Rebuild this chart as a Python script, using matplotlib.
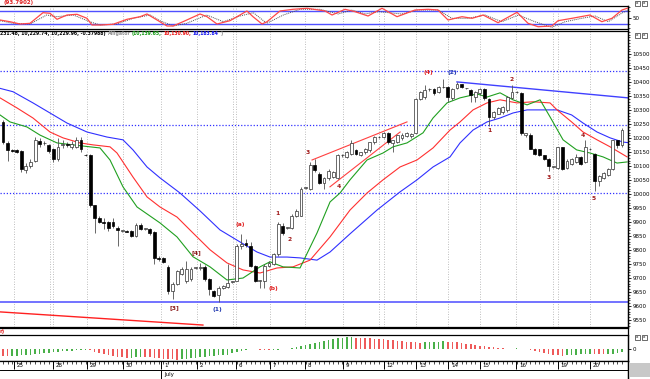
import numpy as np
import matplotlib.pyplot as plt
from matplotlib.patches import Rectangle
from matplotlib.lines import Line2D

plt.rcParams['font.family'] = ['DejaVu Sans']

# ---- hourly candles, Jun 24 .. Jul 20 ----
opens = [10257,10181,10156,10156,10153,10085,10100,10120,10190,10182,
         10175,10160,10125,10175,10178,10170,10170,10195,10140,10138,
         9960,9915,9900,9900,9900,9880,9868,9868,9868,9852,
         9890,9876,9876,9865,9770,9770,9740,9654,9679,9715,
         9690,9697,9736,9735,9740,9697,9654,9640,9665,9668,
         9686,9690,9815,9825,9815,9744,9690,9690,9744,9751,
         9786,9887,9880,9880,9923,9923,10023,10020,10105,10073,
         10041,10056,10062,10059,10138,10131,10145,10156,10140,10149,
         10156,10185,10203,10203,10217,10181,10185,10199,10206,10206,
         10220,10339,10346,10374,10374,10364,10382,10382,10342,10378,
         10392,10378,10371,10346,10360,10374,10339,10274,10288,10292,
         10299,10342,10364,10360,10212,10213,10163,10160,10138,10127,
         10098,10095,10167,10095,10109,10113,10131,10113,10160,10145,
         10048,10059,10070,10088,10192,10174]
highs = [10265,10190,10160,10162,10158,10110,10125,10205,10200,10190,
         10180,10165,10200,10195,10185,10190,10205,10205,10145,10142,
         9962,9920,9915,9905,9915,9885,9872,9870,9870,9895,
         9895,9880,9880,9868,9778,9775,9745,9685,9730,9740,
         9760,9740,9740,9755,9745,9700,9658,9670,9675,9750,
         9690,9820,9858,9840,9830,9748,9693,9750,9760,9790,
         9900,9895,9884,9928,9945,10025,10026,10113,10125,10080,
         10062,10090,10082,10145,10142,10155,10195,10160,10152,10166,
         10188,10206,10206,10222,10222,10195,10213,10218,10222,10220,
         10342,10368,10389,10378,10378,10385,10410,10385,10378,10400,
         10395,10381,10375,10368,10378,10378,10342,10296,10310,10315,
         10350,10389,10368,10364,10220,10217,10166,10163,10140,10130,
         10102,10170,10170,10125,10130,10145,10135,10192,10164,10148,
         10070,10080,10092,10195,10195,10235]
lows = [10178,10120,10150,10148,10080,10075,10095,10115,10170,10175,
        10148,10115,10120,10165,10170,10160,10165,10150,10135,9955,
        9860,9895,9875,9868,9878,9815,9865,9864,9845,9848,
        9870,9872,9855,9750,9760,9752,9643,9625,9675,9710,
        9683,9690,9732,9730,9690,9640,9634,9614,9660,9665,
        9682,9688,9805,9810,9740,9685,9665,9665,9738,9745,
        9780,9855,9876,9875,9918,9920,10018,10015,10080,10035,
        10020,10050,10058,10055,10134,10128,10140,10140,10135,10145,
        10150,10180,10200,10200,10180,10150,10182,10195,10203,10200,
        10218,10335,10340,10370,10355,10360,10378,10328,10338,10374,
        10378,10374,10330,10328,10355,10338,10245,10270,10285,10288,
        10295,10340,10360,10210,10205,10160,10140,10135,10122,10084,
        10094,10090,10085,10090,10105,10110,10105,10110,10156,10012,
        10030,10055,10066,10085,10165,10170]
closes = [10185,10156,10154,10152,10091,10100,10115,10195,10180,10183,
          10155,10125,10170,10178,10176,10180,10195,10160,10138,9960,
          9915,9900,9898,9880,9885,9870,9868,9866,9852,9890,
          9876,9877,9862,9770,9768,9756,9654,9679,9726,9733,
          9733,9733,9736,9740,9697,9661,9636,9665,9672,9683,
          9686,9815,9822,9818,9744,9690,9690,9744,9755,9786,
          9894,9862,9880,9923,9941,10020,10023,10105,10085,10041,
          10059,10084,10078,10138,10138,10149,10181,10145,10149,10163,
          10185,10203,10203,10217,10185,10192,10210,10213,10217,10214,
          10339,10364,10371,10374,10360,10382,10382,10346,10374,10392,
          10382,10378,10353,10364,10374,10342,10274,10292,10306,10310,
          10346,10364,10364,10217,10217,10163,10145,10138,10127,10102,
          10098,10167,10091,10120,10127,10131,10109,10167,10160,10048,
          10066,10077,10088,10192,10174,10230]

# ---- Alligator lines (bar position, price) ----
jaw_x = [-0.65,2.18,6.54,10.25,13.96,18.32,22.68,26.17,28.35,31.41,34.24,38.6,42.97,47.33,
         51.69,55.4,58.23,61.94,64.78,68.48,71.32,75.68,81.57,86.59,90.29,93.78,97.49,99.67,
         102.51,105.56,108.4,111.23,114.29,117.77,120.83,124.0,126.5,129.55,132.4,135.2,136.3]
jaw_y = [10378,10366,10326,10290,10254,10222,10204,10194,10158,10097,10058,10004,9940,9872,
         9829,9793,9775,9775,9772,9764,9793,9858,9943,10008,10051,10097,10133,10183,
         10229,10258,10272,10290,10301,10301,10301,10283,10254,10222,10201,10186,10184]
teeth_x = [-0.65,3.05,6.54,10.25,13.09,16.79,19.63,23.34,24.86,28.35,31.41,34.24,37.95,41.44,
           45.15,48.85,52.34,56.05,59.76,63.25,66.96,71.32,75.68,79.39,82.88,86.59,90.29,93.78,
           97.49,99.67,102.51,105.56,108.4,112.1,115.59,119.3,120.83,124.0,126.5,129.55,132.4,136.1]
teeth_y = [10344,10308,10272,10222,10201,10183,10176,10169,10147,10061,9990,9954,9918,9861,
           9801,9754,9729,9718,9736,9740,9764,9847,9943,10004,10051,10097,10122,10165,
           10229,10258,10301,10326,10337,10326,10330,10326,10301,10258,10222,10194,10169,10133]
lips_x = [-0.65,1.53,5.23,8.07,11.78,15.27,18.97,21.16,23.34,26.17,29.23,34.24,37.95,41.44,
          45.15,48.85,52.34,56.05,58.23,61.07,64.78,68.48,71.32,73.5,75.68,79.39,82.88,85.06,
          88.11,91.6,93.78,96.84,99.67,103.38,105.56,108.4,111.23,114.29,117.12,119.3,122.14,
          125.1,128.0,130.86,133.9,136.1]
lips_y = [10283,10258,10240,10211,10183,10176,10169,10165,10122,10026,9954,9897,9847,9776,
          9740,9693,9700,9740,9758,9740,9736,9861,9972,10004,10051,10122,10147,10169,
          10183,10219,10272,10326,10344,10358,10347,10362,10337,10319,10337,10276,10194,
          10158,10147,10133,10111,10115]

# ---- drawn lines ----
hlines_dotted = [10440, 10246, 10004]
hline_solid = 9614
falling_top = ([99.0, 136.3], [10401, 10344])
channel_upper = ([67.4, 88.1], [10122, 10258])
channel_lower = ([71.3, 86.6], [10026, 10222])
low_line = ([-0.65, 43.6], [9579, 9532])

# ---- wave labels (bar, price, text, colour) ----
waves = [(37.3, 9593, '[3]', '#8b1a1a'), (42.1, 9790, '[4]', '#8b1a1a'),
         (46.7, 9586, '(1)', '#2038b0'), (51.7, 9893, '(a)', '#e02020'),
         (58.9, 9661, '(b)', '#e02020'), (59.8, 9929, '1', '#a01818'),
         (62.4, 9836, '2', '#a01818'), (66.5, 10147, '3', '#a01818'),
         (73.3, 10026, '4', '#a01818'), (92.7, 10433, '(4)', '#e02020'),
         (97.9, 10433, '(2)', '#2038b0'), (106.0, 10229, '1', '#a01818'),
         (110.8, 10408, '2', '#a01818'), (119.1, 10061, '3', '#a01818'),
         (126.5, 10211, '4', '#a01818'), (128.9, 9983, '5', '#a01818')]

# ---- Stochastic ----
k_x = [-0.65,1.53,3.71,5.89,8.72,10.25,11.78,13.96,16.14,18.32,19.41,21.16,24.0,27.04,29.88,
       31.41,33.59,35.77,37.08,39.26,42.97,44.5,46.67,49.5,51.03,53.2,54.52,56.49,57.58,60.41,
       63.25,66.3,70.23,71.76,74.59,76.77,79.61,82.66,85.93,89.86,92.7,94.87,97.06,100.1,102.3,
       104.7,107.96,112.1,114.5,116.7,119.7,121.05,124.1,128.0,130.6,132.8,135.0,136.3]
k_v = [38.5,30.6,20,23.2,72.2,69.4,41.7,61.5,64.8,46.3,15.4,15.4,18.6,41.7,53.7,
       66.2,38.5,10.8,10.8,30.6,66.2,53.7,20,35.2,53.7,80,53.7,20,30.6,80,
       87.8,92.5,80,61.5,87.8,76.8,56.9,92.5,53.7,84.6,87.8,84.6,38.5,53.7,46.3,
       61.5,26,74,23.2,7.5,10.8,35.2,46.3,61.5,30.6,46.3,84.6,93.8]
d_x = [-0.65,2.25,5.89,9.53,11.71,15.33,18.97,21.16,24.8,28.42,32.06,34.24,37.14,40.06,44.43,
       48.05,51.69,54.6,57.51,61.14,64.78,69.14,73.13,76.05,78.95,81.86,86.96,90.58,94.94,97.86,
       101.5,105.1,108.8,112.4,116.0,119.7,122.6,126.2,129.1,132.0,134.9,136.3]
d_v = [35.2,23.2,20,61.5,53.7,61.5,30.6,15.4,20,46.3,61.5,35.2,10.8,23.2,61.5,
       30.6,56.9,72.2,23.2,61.5,87.8,87.8,66.2,84.6,66.2,76.8,66.2,84.6,84.6,46.3,
       46.3,61.5,30.6,61.5,30.6,4.8,30.6,46.3,56.9,30.6,69.4,84.6]

# ---- Awesome oscillator ----
ao = [-65,-67,-64,-63,-62,-60,-58,-52,-45,-40,-35,-30,-26,-22,-20,-18,-14,-10,-8,-12,
      -25,-38,-50,-60,-68,-75,-80,-84,-82,-80,-77,-79,-81,-85,-90,-95,-98,-100,-102,-98,
      -94,-90,-86,-80,-72,-66,-64,-62,-60,-54,-40,-25,-15,-8,-4,-3,-5,-8,-10,-9,
      -7,-4,3,10,18,26,35,45,55,65,75,85,95,102,108,112,113,110,108,105,
      102,98,95,92,90,85,80,76,72,68,64,60,63,66,70,72,74,72,68,63,
      58,52,46,40,34,28,22,17,12,8,5,4,6,5,2,-8,-20,-32,-42,-50,
      -55,-60,-64,-62,-58,-55,-52,-48,-45,-47,-50,-52,-49,-44,-38,-30]

# ---- dates ----
day_lines = [2.4,10.25,10.9,18.3,26.2,34.5,42.3,50.2,50.8,58.2,65.9,74.2,82.0,83.1,90.1,97.1,
             104.0,111.9,120.0,121.0,128.0]
day_pos = [2.4,10.9,18.3,26.2,34.5,42.3,50.8,58.2,65.9,74.2,83.1,90.1,97.1,104.0,111.9,121.0,128.0]
day_lab = ['25','28','29','30','1','2','6','7','8','9','12','13','14','15','16','19','20']
month_pos, month_lab = 34.5, 'July'

header = [('231.48, 10,229.74, 10,229.96, -0.37988)', 'black'), ('Alligator', '#909090'),
          ('(10,139.65,', '#119911'), ('10,130.90,', '#ee1111'), ('10,183.84', '#1111ee'),
          (')', '#909090')]

W, H = 650, 379
fig = plt.figure(figsize=(W/100, H/100), dpi=100)

def panel(top, bottom, left=0, right=628):
    return fig.add_axes([left/W, 1-bottom/H, (right-left)/W, (bottom-top)/H])

ax_st = panel(6, 29)
ax = panel(31, 327)
ax_ao = panel(335, 361)
ax_dt = panel(361, 379)
XL = (-0.65, 136.3)
grid_kw = dict(color='#a8a8a8', ls=(0, (1, 2)), lw=0.6, zorder=0)

for a in (ax_st, ax, ax_ao, ax_dt):
    a.set_xlim(*XL)
    a.set_xticks([])
    a.spines['left'].set_visible(False)
    for s in ('top', 'bottom', 'right'):
        a.spines[s].set_linewidth(0.9)

# ---- main price panel ----
x = np.arange(len(closes))
o, hi, lo, c = map(np.array, (opens, highs, lows, closes))
up = c >= o
ax.vlines(x, lo, hi, color='#505050', lw=0.6, zorder=3)
blo = np.minimum(o, c)
bh = np.maximum(np.abs(c - o), 2.0)
ax.bar(x[up], bh[up], bottom=blo[up], width=0.62, color='white', edgecolor='#303030', lw=0.5, zorder=4)
ax.bar(x[~up], bh[~up], bottom=blo[~up], width=0.62, color='black', edgecolor='black', lw=0.5, zorder=4)

ax.plot(jaw_x, jaw_y, color='#3030ff', lw=0.8, zorder=2)
ax.plot(teeth_x, teeth_y, color='#ff3030', lw=0.8, zorder=2)
ax.plot(lips_x, lips_y, color='#20a020', lw=0.8, zorder=2)

for lvl in hlines_dotted:
    ax.axhline(lvl, color='#3030ff', ls=(0, (1, 1.5)), lw=0.9, zorder=1)
ax.axhline(hline_solid, color='#5a5aff', lw=1.2, zorder=1)
ax.plot(*falling_top, color='#4040ff', lw=1.0, zorder=2)
ax.plot(*channel_upper, color='#ff4040', lw=0.8, zorder=2)
ax.plot(*channel_lower, color='#ff4040', lw=0.8, zorder=2)
ax.plot(*low_line, color='#ff2020', lw=1.0, zorder=2)
for d in day_lines:
    ax.axvline(d, **grid_kw)
    ax_st.axvline(d, **grid_kw)

for wx, wy, t, col in waves:
    ax.text(wx, wy, t, color=col, fontsize=4.3, fontweight='bold', ha='center', va='center', zorder=5)

ax.set_ylim(9525, 10583)
ax.yaxis.tick_right()
ax.set_yticks(np.arange(9550, 10501, 50))
ax.set_yticks(np.arange(9530, 10581, 10), minor=True)
ax.tick_params(axis='y', which='major', labelsize=4.0, length=2.5, width=0.6, pad=0.8)
ax.tick_params(axis='y', which='minor', length=1.2, width=0.5)

# header text, laid out piece after piece
renderer = fig.canvas.get_renderer()
hx = 0.5
for t, col in header:
    txt = fig.text(hx/W, 1 - 34/H, t, color=col, fontsize=3.3, fontweight='bold', va='center', ha='left')
    hx = txt.get_window_extent(renderer).x1 + 1.5

# ---- stochastic ----
ax_st.set_ylim(-3, 103)
ax_st.axhline(80, color='#5050ff', lw=1.0, zorder=1)
ax_st.axhline(20, color='#5050ff', lw=1.0, zorder=1)
ax_st.plot(d_x, d_v, color='#505050', lw=0.7, ls=(0, (1, 1)), zorder=2)
ax_st.plot(k_x, k_v, color='#ff4848', lw=0.9, zorder=3)
ax_st.yaxis.tick_right()
ax_st.set_yticks([50])
ax_st.set_yticks([0, 20, 80, 100], minor=True)
ax_st.tick_params(axis='y', which='major', labelsize=4.0, length=2.5, width=0.6, pad=0.8)
ax_st.tick_params(axis='y', which='minor', length=1.2, width=0.5)
fig.text(3/W, 1 - 2.5/H, '(93.7902)', color='#e02020', fontsize=4.0, fontweight='bold', va='center')

# ---- awesome oscillator ----
aov = np.array(ao)
cols = ['#ee5a5a' if i == 0 or aov[i] < aov[i-1] else '#49b049' for i in range(len(aov))]
ax_ao.bar(x, aov, width=0.35, color=cols, zorder=2)
ax_ao.set_ylim(-115, 135)
ax_ao.yaxis.tick_right()
ax_ao.set_yticks([0])
ax_ao.tick_params(axis='y', labelsize=4.0, length=2.5, width=0.6, pad=0.8)
fig.add_artist(Line2D([0, 628/W], [1-328/H, 1-328/H], color='black', lw=0.9))
fig.text(0, 1-331.5/H, 'r)', color='#e02020', fontsize=3.8, fontweight='bold', va='center')

# ---- date axis ----
ax_dt.set_ylim(0, 1)
ax_dt.spines['bottom'].set_visible(False)
ax_dt.set_yticks([])
ax_dt.vlines(x, 0.86, 1.0, color='black', lw=0.5)
ax_dt.vlines(day_pos, 0.55, 1.0, color='black', lw=0.7)
ax_dt.axhline(0.5, color='black', lw=0.7)
for p, t in zip(day_pos, day_lab):
    ax_dt.text(p + 0.6, 0.74, t, fontsize=4.0, ha='left', va='center')
ax_dt.vlines([month_pos], 0.0, 0.5, color='black', lw=0.7)
ax_dt.text(month_pos + 0.6, 0.24, month_lab, fontsize=4.0, ha='left', va='center')

# right axis spine line & panel widgets
fig.add_artist(Line2D([628/W, 628/W], [1-379/H, 1-6/H], color='black', lw=0.9))
fig.add_artist(Rectangle((630/W, 1-377/H), 20/W, 14/H, transform=fig.transFigure,
                         color='#c8c8c8', lw=0))
for ty in (1, 33, 335):
    for tx in (635, 642):
        fig.add_artist(Rectangle((tx/W, 1-(ty+5)/H), 5/W, 5/H, transform=fig.transFigure,
                                 fill=False, lw=0.5, ec='#303030'))
        fig.text((tx+2.5)/W, 1-(ty+2.5)/H, 'x', fontsize=3, ha='center', va='center')

fig.savefig('out.png', dpi=100)
